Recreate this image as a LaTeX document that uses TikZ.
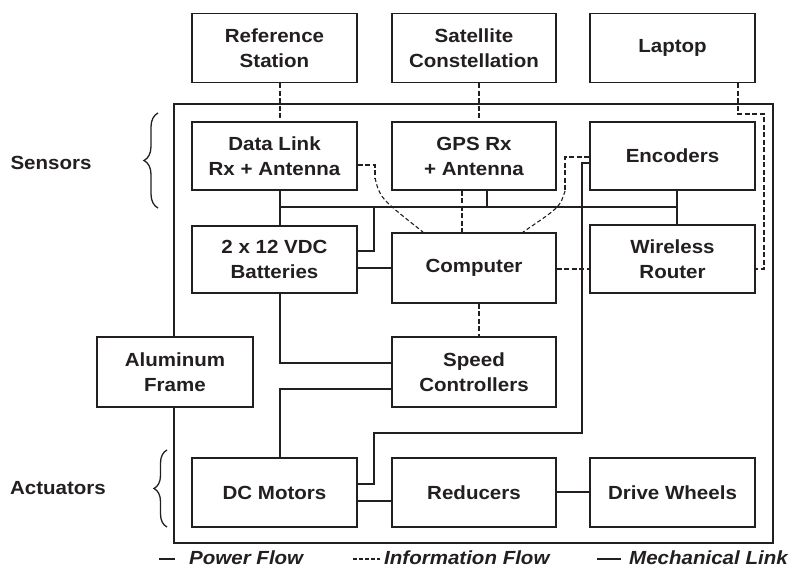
\documentclass[tikz,border=0pt]{standalone}
\usepackage{fontspec}
\setmainfont{Liberation Sans}[FakeStretch=1.08]
\usetikzlibrary{decorations.pathreplacing,calc}
\definecolor{ink}{HTML}{231F20}
\begin{document}
\begin{tikzpicture}[x=1pt,y=-1pt,
  box/.style={draw=ink, line width=1.9pt, fill=white, minimum width=165pt, minimum height=69pt, inner sep=0pt, align=center, font=\fontsize{19}{25}\selectfont\bfseries, text=ink},
  pw/.style={draw=ink, line width=1.8pt},
  info/.style={draw=ink, line width=2.7pt, dash pattern=on 5pt off 2.5pt},
  infothin/.style={draw=ink, line width=1.1pt, dash pattern=on 4pt off 2.5pt},
  lbl/.style={font=\fontsize{19}{25}\selectfont\bfseries, text=ink},
  leg/.style={font=\fontsize{19}{25}\selectfont\bfseries\itshape, text=ink, anchor=base west, inner sep=0pt},
  brc/.style={draw=ink, line width=1.3pt, decorate},
]
\useasboundingbox (0,0) rectangle (792,569);

% outer frame
\node[draw=ink, line width=1.9pt, minimum width=599pt, minimum height=439pt, inner sep=0pt] (frame) at (473.5,323.5) {};

% boxes
\node[box] (ref) at (274.5,48) {Reference\\Station};
\node[box, minimum width=164pt] (sat) at (474,48) {Satellite\\Constellation};
\node[box] (lap) at (672.5,48) {Laptop};

\node[box, minimum height=68pt] (dl) at (274.5,156) {Data Link\\Rx + Antenna};
\node[box, minimum width=164pt, minimum height=68pt] (gps) at (474,156) {GPS Rx\\+ Antenna};
\node[box, minimum height=68pt] (enc) at (672.5,156) {Encoders};

\node[box, minimum height=67pt] (bat) at (274.5,259.5) {2 x 12 VDC\\Batteries};
\node[box, minimum width=164pt, minimum height=70pt] (comp) at (474,268) {Computer};
\node[box, minimum height=68pt] (rtr) at (672.5,259) {Wireless\\Router};

\node[box, minimum width=156pt, minimum height=70pt] (alu) at (175,372) {Aluminum\\Frame};
\node[box, minimum width=164pt, minimum height=70pt] (spd) at (474,372) {Speed\\Controllers};

\node[box] (dcm) at (274.5,492.5) {DC Motors};
\node[box, minimum width=164pt] (red) at (474,492.5) {Reducers};
\node[box] (drv) at (672.5,492.5) {Drive Wheels};

% power / mechanical connections
\coordinate (busL) at (280,207);
\coordinate (busR) at (677,207);
\draw[pw] (280,0 |- dl.south) -- (280,0 |- bat.north);
\draw[pw] (busL) -- (busR);
\draw[pw] (487,0 |- gps.south) -- (487,207);
\draw[pw] (677,0 |- enc.south) -- (677,0 |- rtr.north);
\draw[pw] (374,207) |- (bat.east |- 0,251);
\draw[pw] (bat.east |- 0,268) -- (comp.west |- 0,268);
\draw[pw] (280,0 |- bat.south) |- (spd.west |- 0,363);
\draw[pw] (spd.west |- 0,389) -| (280,0 |- dcm.north);
\coordinate (loopA) at (582,433);
\coordinate (loopB) at (374,484);
\draw[pw] (enc.west |- 0,163) -| (loopA) -| (loopB) -- (dcm.east |- 0,484);
\draw[pw] (dcm.east |- 0,501) -- (red.west |- 0,501);
\draw[pw] (red.east |- 0,492) -- (drv.west |- 0,492);

% information connections
\draw[info] (280,0 |- ref.south) -- (280,0 |- dl.north);
\draw[info] (479,0 |- sat.south) -- (479,0 |- gps.north);
\coordinate (lapA) at (764,114);
\draw[info] (738,0 |- lap.south) |- (lapA) |- (rtr.east |- 0,269);
\draw[info] (comp.east |- 0,269) -- (rtr.west |- 0,269);
\draw[info] (479,0 |- comp.south) -- (479,0 |- spd.north);
\draw[info] (462,0 |- gps.south) -- (462,0 |- comp.north);
\coordinate (dlA) at (375,178);
\draw[info] (dl.east |- 0,165) -| (dlA);
\draw[infothin] (dlA) .. controls (380,198) .. (423,0 |- comp.north);
\coordinate (encA) at (565,191);
\draw[info] (enc.west |- 0,157) -| (encA);
\draw[infothin] (encA) .. controls (560,207) .. (523,0 |- comp.north);

% braces and group labels
\draw[brc, decoration={brace, amplitude=14pt}] (158,208) -- (158,113);
\draw[brc, decoration={brace, amplitude=13pt}] (167,527) -- (167,450);
\node[lbl] (sens) at (51,163) {Sensors};
\node[lbl] (act) at (58,488) {Actuators};

% legend
\draw[ink, line width=2.7pt] (159,559) -- (175,559);
\node[leg] (lp) at (189,564) {Power Flow};
\draw[ink, line width=1.6pt, dash pattern=on 4pt off 2pt] (353,559) -- (380,559);
\node[leg] (li) at (384,564) {Information Flow};
\draw[ink, line width=2.7pt] (597,559) -- (621,559);
\node[leg] (lm) at (629,564) {Mechanical Link};
\end{tikzpicture}
\end{document}
